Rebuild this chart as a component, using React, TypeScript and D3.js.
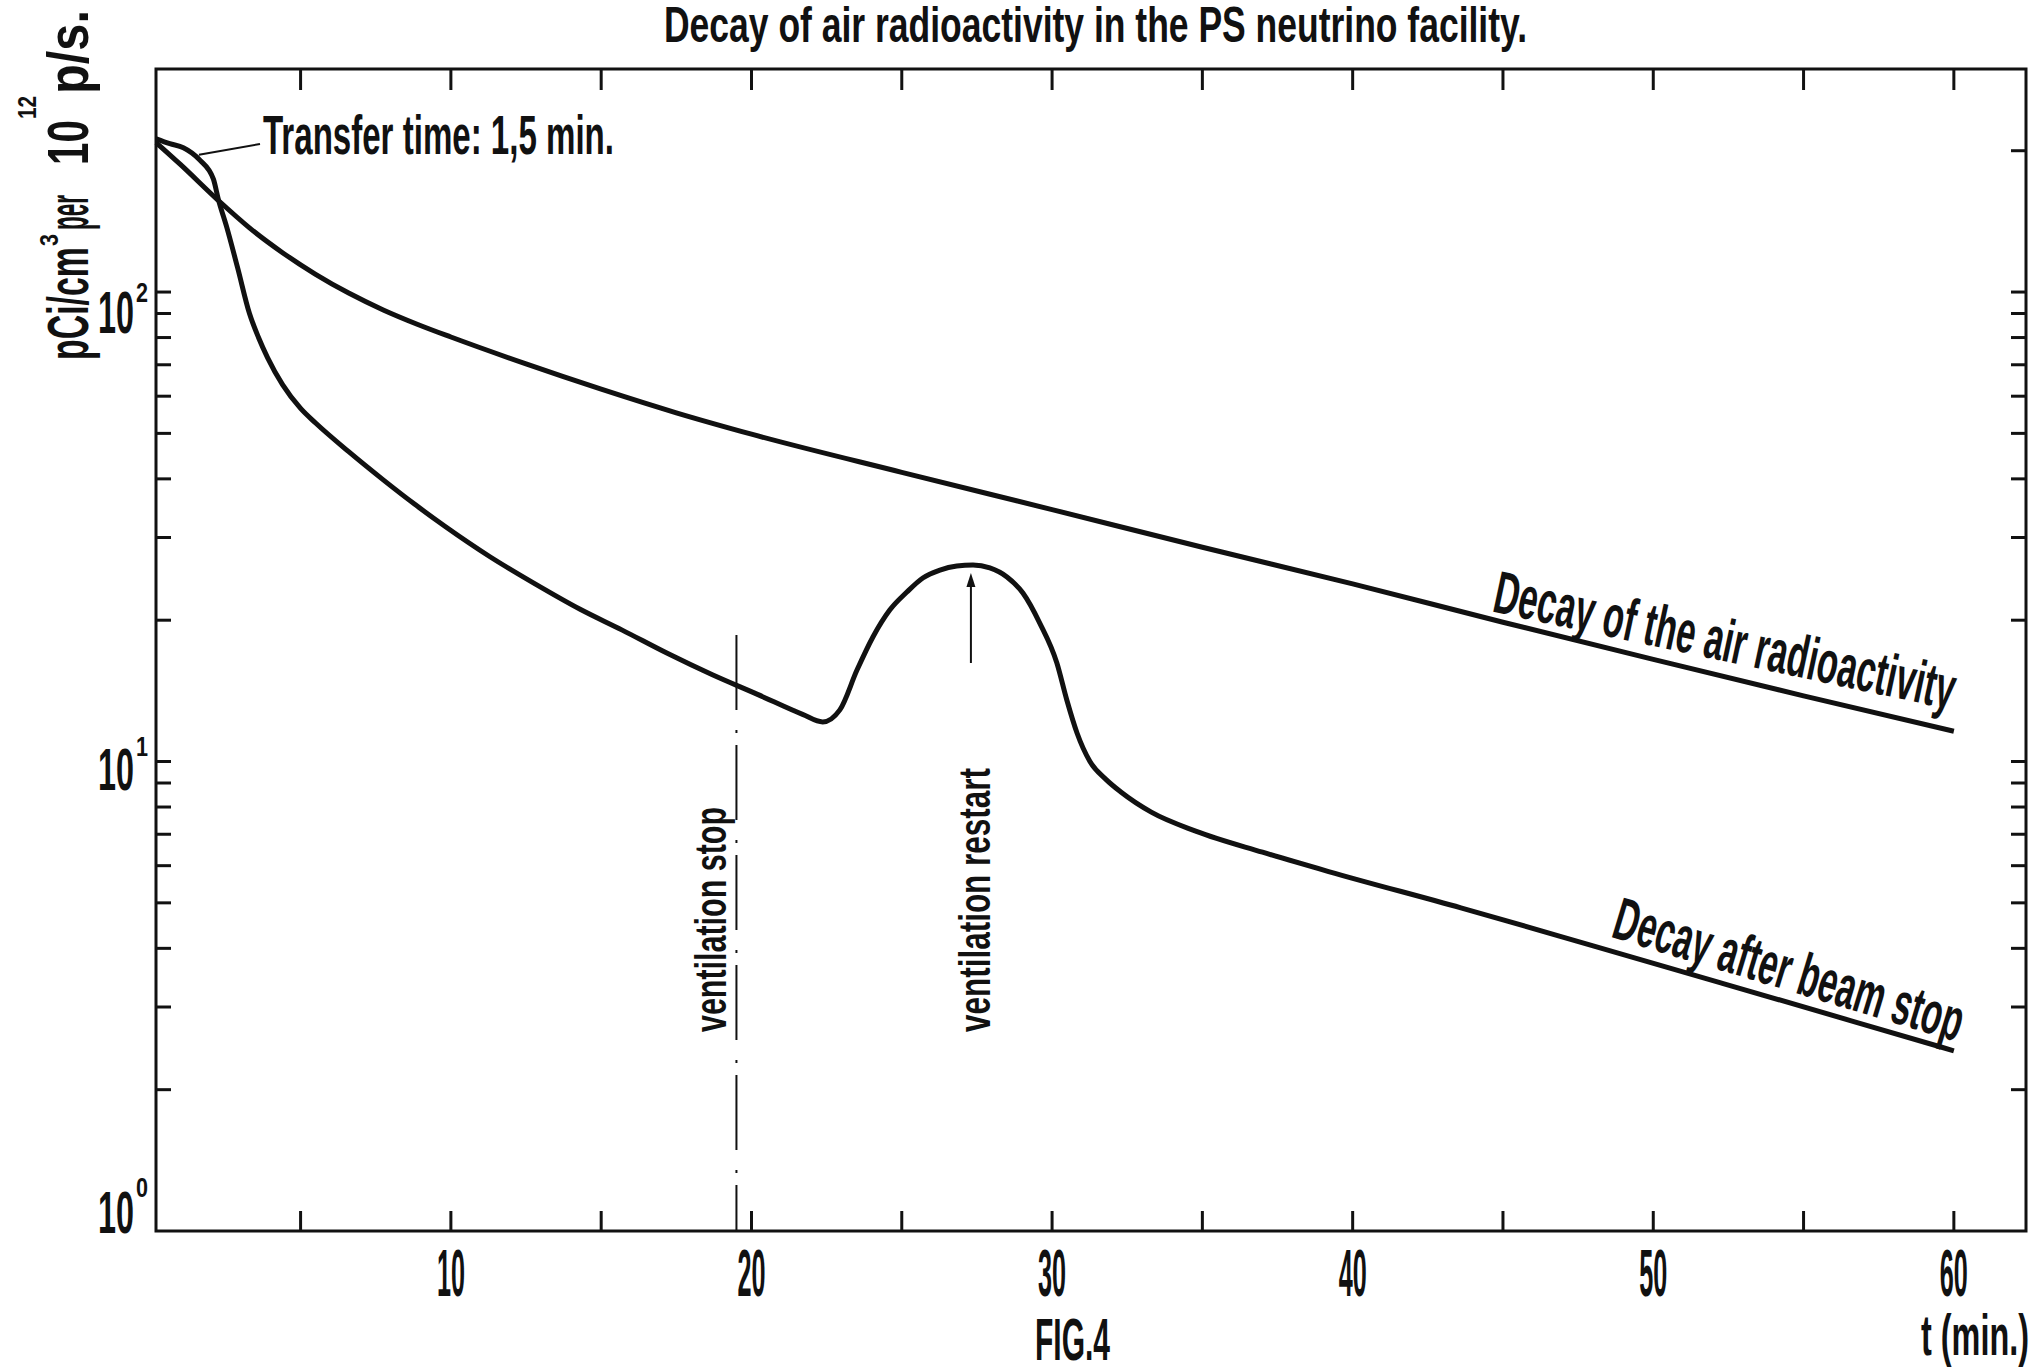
import React from 'react';
import * as d3 from 'd3';

// minutes after beam stop
const airTime = [0.2, 1, 2.25, 3.3, 4.4, 5.5, 6.6, 7.75, 8.9, 10, 12.5, 15, 17.5, 20, 25, 30, 35, 40, 45, 50, 55, 60];
// pCi/cm3 per 10^12 p/s
const airValue = [208, 187, 157, 137, 121.3, 109.1, 99.5, 91.6, 85.3, 80.2, 70.3, 62.1, 55.3, 49.8, 41.3, 34.4, 28.6, 23.9, 19.8, 16.5, 13.8, 11.6];

const beamTime = [0.2, 0.65, 1.1, 1.65, 2.1, 2.26, 2.55, 2.9, 3.3, 3.6, 3.9, 4.4, 5.0, 5.5, 6.6, 7.75, 8.8, 9.8, 11.3, 12.8, 14.3, 15.7, 17.2, 18.7, 20.2, 21.7, 22.37, 22.94, 23.51, 24.04, 24.6, 25.17, 25.7, 26.27, 26.83, 27.37, 27.93, 28.5, 29.03, 29.59, 30.16, 30.49, 30.83, 31.26, 31.8, 32.3, 33.3, 34.8, 37, 39.2, 43.6, 48, 52.3, 56.7, 60];
const beamValue = [212, 207, 203, 191, 174, 158, 137, 113, 90, 80, 72.5, 63.5, 56.5, 52.6, 45.7, 39.8, 35.3, 31.7, 27.3, 23.9, 21.1, 19.05, 17.0, 15.3, 13.9, 12.6, 12.14, 12.88, 15.66, 18.42, 21.02, 22.96, 24.6, 25.58, 26.09, 26.22, 25.84, 24.72, 22.85, 19.72, 16.21, 13.52, 11.5, 10.0, 9.15, 8.6, 7.8, 7.1, 6.41, 5.83, 4.88, 4.05, 3.37, 2.79, 2.42];

const xLabels = [10, 20, 30, 40, 50, 60];
const xTicks = [5, 10, 15, 20, 25, 30, 35, 40, 45, 50, 55, 60];
const yDecades = [1, 10, 100];
const yExponents = ['0', '1', '2'];

const ventStop = 19.5;
const ventStopTop = 18.6;
const ventRestart = 27.3;

const title = 'Decay of air radioactivity in the PS neutrino facility.';
const airLabel = 'Decay of the air radioactivity';
const beamLabel = 'Decay after beam stop';

const W = 2032, H = 1367;
const frame = { left: 156, right: 2026, top: 69, bottom: 1231 };
const font = "'Liberation Sans Narrow', 'Liberation Sans', Arial, sans-serif";
const ink = '#111';

// label baseline offsets relative to decade tick
const decadeDy = [2, 28, 41];
const supDy = [-34, -6, 10];

function logAt(ts: number[], vs: number[], t: number) {
  let i = d3.bisectLeft(ts, t);
  i = Math.max(1, Math.min(ts.length - 1, i));
  const f = (t - ts[i - 1]) / (ts[i] - ts[i - 1]);
  return 10 ** (Math.log10(vs[i - 1]) * (1 - f) + Math.log10(vs[i]) * f);
}

function T({ x = 0, y = 0, size, len, children, anchor = 'start' }: any) {
  return (
    <text x={x} y={y} fontSize={size} textLength={len} lengthAdjust="spacingAndGlyphs"
      textAnchor={anchor} fontFamily={font} fontWeight="bold" fill={ink}>{children}</text>
  );
}

export default function App() {
  const x = d3.scaleLinear().domain([0.19, 62.4]).range([frame.left, frame.right]);
  const y = d3.scaleLog().domain([1, 298.6]).range([frame.bottom, frame.top]);

  const line = d3.line<[number, number]>()
    .x(d => x(d[0]))
    .y(d => y(d[1]))
    .curve(d3.curveMonotoneX);

  const airPath = line(airTime.map((t, i) => [t, airValue[i]]))!;
  const beamPath = line(beamTime.map((t, i) => [t, beamValue[i]]))!;

  const yTicks = y.ticks().filter(v => v > 1);

  // curve labels sit on their curve, rotated along it
  const curveLabel = (ts: number[], vs: number[], t0: number, t1: number, lift0: number, lift1: number) => {
    const x0 = x(t0), y0 = y(logAt(ts, vs, t0)) - lift0;
    const x1 = x(t1), y1 = y(logAt(ts, vs, t1)) - lift1;
    const angle = Math.atan2(y1 - y0, x1 - x0) * 180 / Math.PI;
    return { transform: `translate(${x0},${y0}) rotate(${angle})`, len: Math.hypot(x1 - x0, y1 - y0) };
  };
  const airLbl = curveLabel(airTime, airValue, 44.6, 59.9, 8, 21);
  const beamLbl = curveLabel(beamTime, beamValue, 48.55, 60.1, 14, 10);

  const peak = d3.max(beamValue.slice(20))!;
  const arrowX = x(ventRestart);
  const arrowTip = y(peak) + 8;

  return (
    <svg width={W} height={H} style={{ position: 'absolute', left: 0, top: 0, display: 'block', background: '#fff' }}>
      <rect width={W} height={H} fill="#fff" />

      <T x={664} y={42} size={50} len={863}>{title}</T>

      {/* y axis title */}
      <g transform="translate(88,362) rotate(-90)">
        <T x={2} size={58} len={113}>pCi/cm</T>
        <T x={116} y={-30} size={26} len={12}>3</T>
        <T x={132} size={58} len={35}>per</T>
        <T x={197} size={58} len={45}>10</T>
        <T x={243} y={-52} size={26} len={23}>12</T>
        <T x={268} size={58} len={84}>p/s.</T>
      </g>

      {/* frame */}
      <rect x={frame.left} y={frame.top} width={frame.right - frame.left} height={frame.bottom - frame.top}
        fill="none" stroke={ink} strokeWidth={3} />

      {/* x ticks, bottom and top */}
      {xTicks.map(t => (
        <g key={`xt-${t}`} stroke={ink} strokeWidth={3}>
          <line x1={x(t)} x2={x(t)} y1={frame.bottom} y2={frame.bottom - 20} />
          <line x1={x(t)} x2={x(t)} y1={frame.top} y2={frame.top + 21} />
        </g>
      ))}
      {xLabels.map(t => (
        <T key={`xl-${t}`} x={x(t)} y={1296} size={67} len={28} anchor="middle">{t}</T>
      ))}

      {/* y ticks, left and right */}
      {yTicks.map(v => (
        <g key={`yt-${v}`} stroke={ink} strokeWidth={3}>
          {v <= 100 && <line x1={frame.left} x2={frame.left + 15} y1={y(v)} y2={y(v)} />}
          <line x1={frame.right} x2={frame.right - 15} y1={y(v)} y2={y(v)} />
        </g>
      ))}
      {yDecades.map((v, i) => (
        <g key={`yl-${v}`}>
          <T x={98} y={y(v) + decadeDy[i]} size={60} len={36}>10</T>
          <T x={136} y={y(v) + supDy[i]} size={28} len={12}>{yExponents[i]}</T>
        </g>
      ))}

      {/* curves */}
      <path d={airPath} fill="none" stroke={ink} strokeWidth={5} strokeLinejoin="round" />
      <path d={beamPath} fill="none" stroke={ink} strokeWidth={5} strokeLinejoin="round" />

      <g transform={airLbl.transform}>
        <T size={60} len={airLbl.len}>{airLabel}</T>
      </g>
      <g transform={beamLbl.transform}>
        <T size={60} len={beamLbl.len}>{beamLabel}</T>
      </g>

      {/* transfer time note */}
      <line x1={x(1.62)} y1={y(196)} x2={260} y2={144} stroke={ink} strokeWidth={2} />
      <T x={263} y={154} size={56} len={351}>Transfer time: 1,5 min.</T>

      {/* ventilation stop */}
      <line x1={x(ventStop)} x2={x(ventStop)} y1={y(ventStopTop)} y2={frame.bottom}
        stroke={ink} strokeWidth={2} strokeDasharray="75 20 3 12" />
      <g transform={`translate(${x(ventStop) - 10},1032) rotate(-90)`}>
        <T size={44} len={225}>ventilation stop</T>
      </g>

      {/* ventilation restart */}
      <line x1={arrowX} x2={arrowX} y1={arrowTip + 90} y2={arrowTip + 10} stroke={ink} strokeWidth={2} />
      <path d={`M${arrowX},${arrowTip} L${arrowX - 4.5},${arrowTip + 14} L${arrowX + 4.5},${arrowTip + 14} Z`} fill={ink} />
      <g transform={`translate(${arrowX + 19},1032) rotate(-90)`}>
        <T size={44} len={264}>ventilation restart</T>
      </g>

      <T x={1035} y={1360} size={60} len={75}>FIG.4</T>
      <T x={1921} y={1355} size={58} len={108}>t (min.)</T>
    </svg>
  );
}
